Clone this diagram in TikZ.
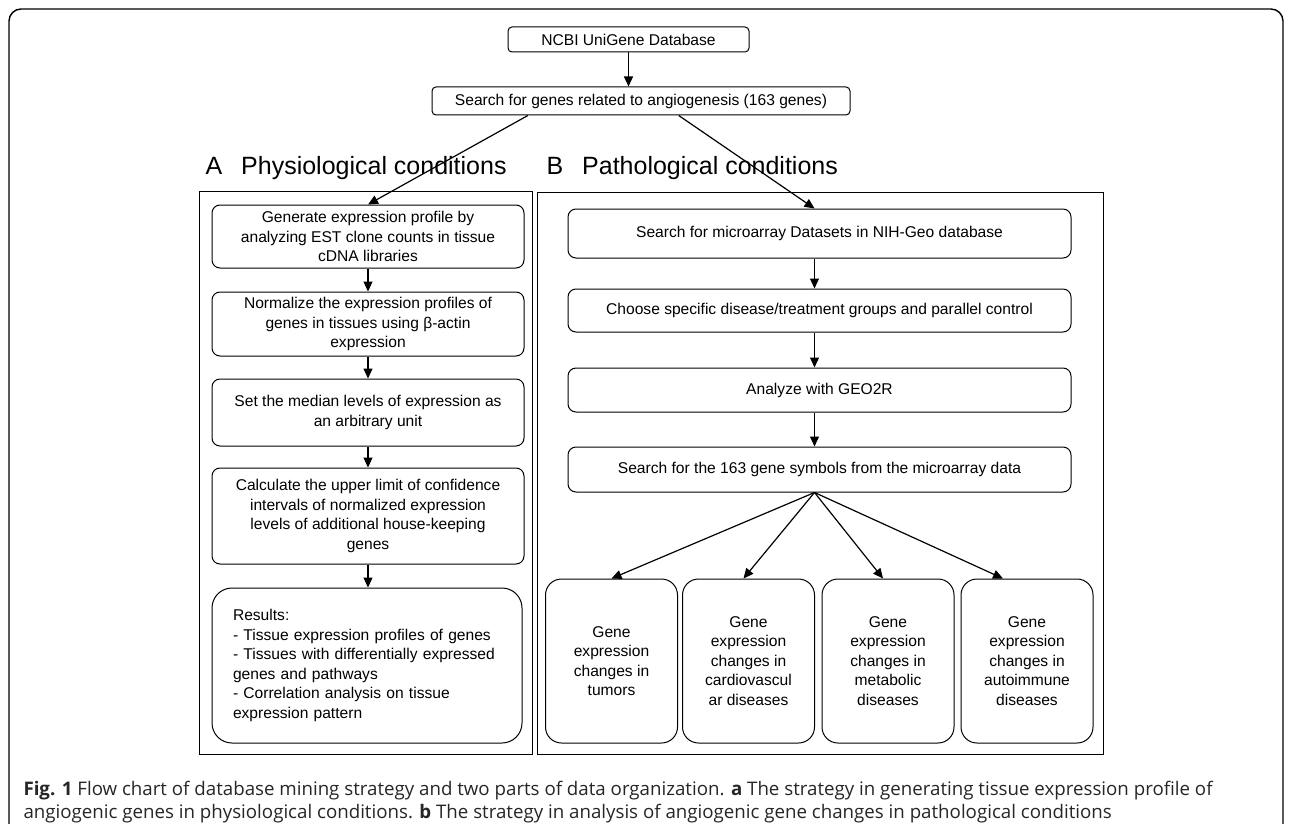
\documentclass[tikz,border=0pt]{standalone}
\usepackage{fontspec}
\setmainfont{Liberation Sans}
\newfontfamily\capfont{Open Sans}
\usetikzlibrary{calc,arrows.meta}

\begin{document}
\begin{tikzpicture}[x=1pt,y=-1pt,line width=1pt,
  box/.style={draw, rounded corners=8, align=center, inner sep=2pt,
    font=\fontsize{15.6}{19.5}\selectfont},
  arr/.style={-{Triangle[length=10pt,width=9pt]}, line width=1.2pt}]

% Page size
\useasboundingbox (0,0) rectangle (1290,824);

% Outer frame
\draw[line width=1.4pt, rounded corners=12] (9,826) -- (9,9) -- (1283,9) -- (1283,826);

% Top boxes
\node[box, rounded corners=4, minimum width=241, minimum height=25] (ncbi) at (628.5,39.5) {NCBI UniGene Database};
\node[box, rounded corners=4, minimum width=418, minimum height=28] (search) at (641,101) {Search for genes related to angiogenesis (163 genes)};

% Panel titles
\node[anchor=base west, inner sep=0, font=\fontsize{25}{30}\selectfont] (titleA) at (205,175) {A\hspace{19pt}Physiological conditions};
\node[anchor=base west, inner sep=0, font=\fontsize{25}{30}\selectfont] (titleB) at (546,175) {B\hspace{19pt}Pathological conditions};

% Panel frames
\draw (199,191) rectangle (532,754);
\draw (537,192) rectangle (1103,754);

% Left chain (physiological)
\node[box, minimum width=312, minimum height=63] (gen) at (368,236.5) {Generate expression profile by\\analyzing EST clone counts in tissue\\cDNA libraries};
\node[box, minimum width=312, minimum height=64] (norm) at (368,324) {Normalize the expression profiles of\\genes in tissues using β-actin\\expression};
\node[box, minimum width=312, minimum height=67] (med) at (368,412.5) {Set the median levels of expression as\\an arbitrary unit};
\node[box, minimum width=312, minimum height=96] (conf) at (368,516) {Calculate the upper limit of confidence\\intervals of normalized expression\\levels of additional house-keeping\\genes};
\node[box, rounded corners=20, align=left, text width=268, inner xsep=21, minimum height=155] (res) at (367,665.5) {Results:\\- Tissue expression profiles of genes\\- Tissues with differentially expressed\\genes and pathways\\- Correlation analysis on tissue\\expression pattern};

% Right chain (pathological)
\node[box, minimum width=503, minimum height=49] (srch) at (819.5,233.5) {Search for microarray Datasets in NIH-Geo database};
\node[box, minimum width=503, minimum height=43] (choose) at (819.5,310.5) {Choose specific disease/treatment groups and parallel control};
\node[box, minimum width=503, minimum height=44] (geo) at (819.5,390) {Analyze with GEO2R};
\node[box, minimum width=503, minimum height=45] (sym) at (819.5,469.5) {Search for the 163 gene symbols from the microarray data};

% Disease groups
\node[box, rounded corners=16, minimum width=132, minimum height=164] (tum) at (611.5,661) {Gene\\expression\\changes in\\tumors};
\node[box, rounded corners=16, minimum width=132, minimum height=164] (card) at (748.5,661) {Gene\\expression\\changes in\\cardiovascul\\ar diseases};
\node[box, rounded corners=16, minimum width=132, minimum height=164] (meta) at (888,661) {Gene\\expression\\changes in\\metabolic\\diseases};
\node[box, rounded corners=16, minimum width=132, minimum height=164] (auto) at (1027,661) {Gene\\expression\\changes in\\autoimmune\\diseases};

% Arrows at the top
\draw[arr] (ncbi.south) -- (ncbi.south |- search.north);
\draw[arr] ($(search.south west)!0.23!(search.south east)$) -- (gen.north);
\draw[arr] ($(search.south west)!0.59!(search.south east)$) -- ([xshift=-5]srch.north);

% Arrows in the left chain
\draw[arr] (gen) -- (norm);
\draw[arr] (norm) -- (med);
\draw[arr] (med) -- (conf);
\draw[arr] (conf.south) -- (conf.south |- res.north);

% Arrows in the right chain
\draw[arr] ([xshift=-5]srch.south) -- ([xshift=-5]choose.north);
\draw[arr] ([xshift=-5]choose.south) -- ([xshift=-5]geo.north);
\draw[arr] ([xshift=-5]geo.south) -- ([xshift=-5]sym.north);

% Fan to the disease groups
\draw[arr] ([xshift=-5]sym.south) -- (tum.north);
\draw[arr] ([xshift=-5]sym.south) -- ([xshift=-5]card.north);
\draw[arr] ([xshift=-5]sym.south) -- ([xshift=-5]meta.north);
\draw[arr] ([xshift=-5]sym.south) -- ([xshift=-24]auto.north);

% Caption
\node[anchor=north west, inner sep=0, align=left, text=black!85, font=\capfont\fontsize{18.7}{23}\selectfont] (cap) at (23,781) {\textbf{Fig. 1} Flow chart of database mining strategy and two parts of data organization. \textbf{a} The strategy in generating tissue expression profile of\\angiogenic genes in physiological conditions. \textbf{b} The strategy in analysis of angiogenic gene changes in pathological conditions};

\end{tikzpicture}
\end{document}
